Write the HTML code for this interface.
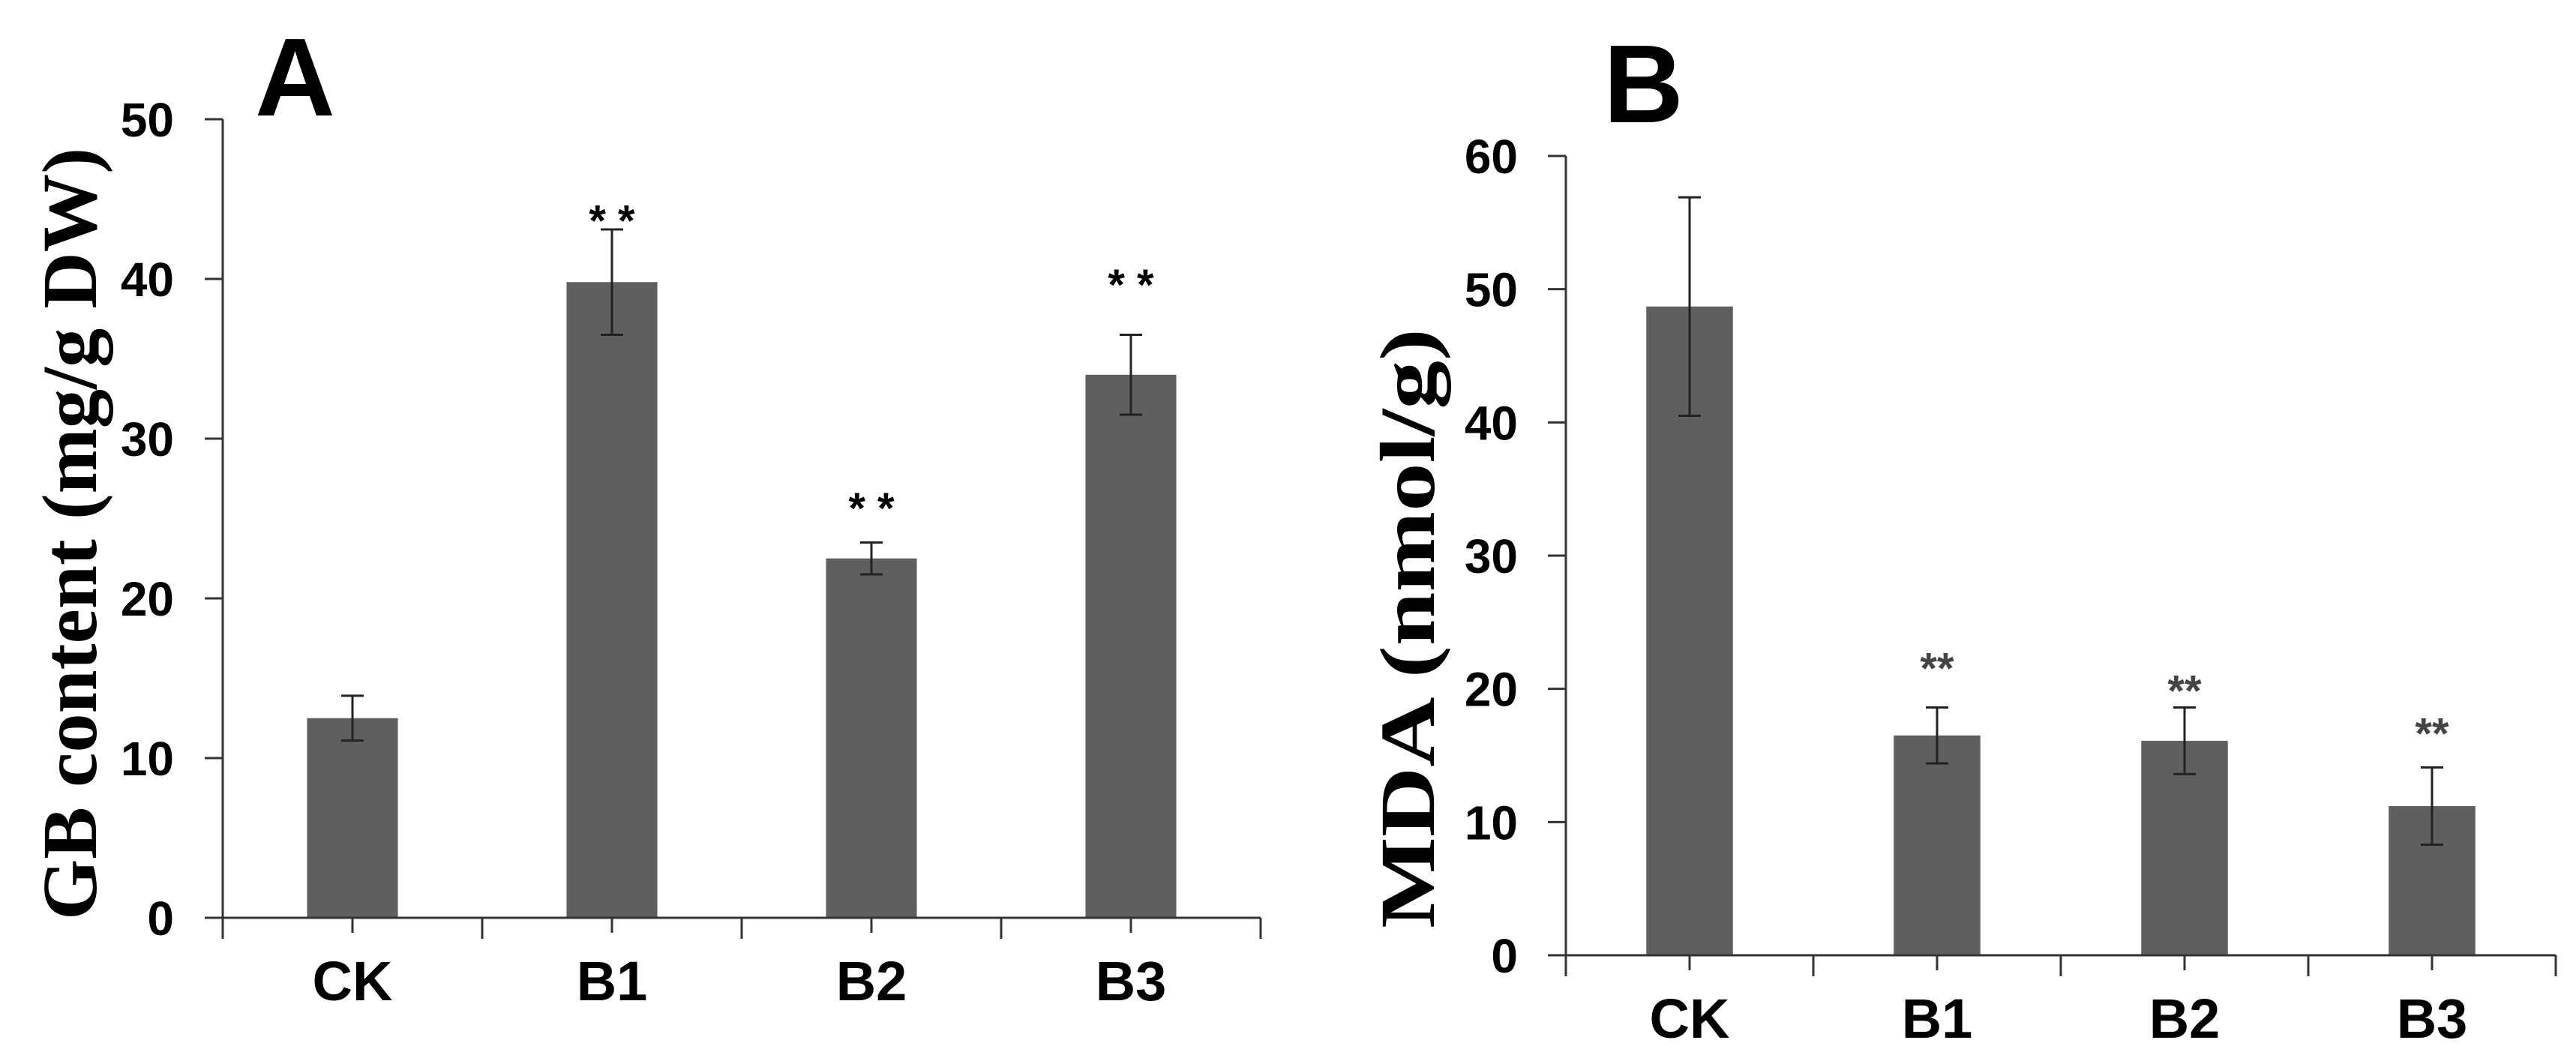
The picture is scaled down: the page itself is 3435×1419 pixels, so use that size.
<!DOCTYPE html>
<html><head><meta charset="utf-8"><style>
html,body{margin:0;padding:0;background:#fff;}
svg{display:block;}
</style></head><body>
<svg id="chart" width="3435" height="1419" xmlns="http://www.w3.org/2000/svg">
<g id="pa"></g>
<g id="pb"></g>
</svg>
<script>
const categories = ["CK","B1","B2","B3"];
const gbValues = [12.5, 39.8, 22.5, 34.0];
const gbErrors = [1.4, 3.3, 1.0, 2.5];
const gbStars = ["", "* *", "* *", "* *"];
const gbStarLevels = [0, 44.1, 26.1, 40.1];
const gbTicks = [0,10,20,30,40,50];
const mdaValues = [48.7, 16.5, 16.1, 11.2];
const mdaErrors = [8.2, 2.1, 2.5, 2.9];
const mdaStars = ["", "**", "**", "**"];
const mdaStarLevels = [0, 22.1, 20.4, 17.2];
const mdaTicks = [0,10,20,30,40,50,60];

const NS = "http://www.w3.org/2000/svg";
function mk(parent, tag, attrs, text){
  const e = document.createElementNS(NS, tag);
  for (const k in attrs) e.setAttribute(k, attrs[k]);
  if (text !== undefined) e.textContent = text;
  parent.appendChild(e);
  return e;
}

function drawPanel(g, cfg){
  const {x0, y0, yTop, maxV, step, vals, errs, stars, starLevels, ticks, letter, lx, ly, title, tx, ty, tlen, starFill, starSize, tickLabelX} = cfg;
  const ys = v => y0 - (y0 - yTop) * v / maxV;
  const xc = i => x0 + step * (i + 0.5);
  const bw = step * 0.35;
  const axisCol = "#333";
  vals.forEach((v,i)=>{
    const r = mk(g,"rect",{x:xc(i)-bw/2,y:ys(v),width:bw,height:y0-ys(v),fill:"#5f5f5f"});
    
    
  });
  vals.forEach((v,i)=>{
    const e = mk(g,"g",{stroke:"#222","stroke-width":3,fill:"none"});
    
    
    const hi = ys(v+errs[i]), lo = ys(v-errs[i]), x = xc(i);
    mk(e,"line",{x1:x,y1:hi,x2:x,y2:lo});
    mk(e,"line",{x1:x-15,y1:hi,x2:x+15,y2:hi});
    mk(e,"line",{x1:x-15,y1:lo,x2:x+15,y2:lo});
    if (stars[i]) {
      const s = mk(g,"text",{x:x,y:ys(starLevels[i])+30,"text-anchor":"middle","font-family":"Liberation Sans, sans-serif","font-size":starSize,"font-weight":"bold",fill:starFill},stars[i]);
      
      
    }
  });
  const ax = mk(g,"g",{stroke:axisCol,"stroke-width":3});
  
  
  mk(ax,"line",{x1:x0,y1:yTop,x2:x0,y2:y0+28});
  mk(ax,"line",{x1:x0-24,y1:y0,x2:x0+step*4,y2:y0});
  for (let i=1;i<=4;i++) mk(ax,"line",{x1:x0+step*i,y1:y0,x2:x0+step*i,y2:y0+28});
  categories.forEach((c,i)=>{
    mk(ax,"line",{x1:xc(i),y1:y0,x2:xc(i),y2:y0+20});
    const t = mk(g,"text",{x:xc(i),y:y0+110,"text-anchor":"middle","font-family":"Liberation Sans, sans-serif","font-size":74,"font-weight":"bold",fill:"#000"},c);
    
    
  });
  ticks.forEach(v=>{
    mk(ax,"line",{x1:x0-24,y1:ys(v),x2:x0,y2:ys(v)});
    const t = mk(g,"text",{x:tickLabelX,y:ys(v)+23,"text-anchor":"end","font-family":"Liberation Sans, sans-serif","font-size":64,"font-weight":"bold",fill:"#000"},String(v));
    
    
  });
  const L = mk(g,"text",{x:lx,y:ly,"font-family":"Liberation Sans, sans-serif","font-size":148,"font-weight":"bold",fill:"#000"},letter);
  
  
  const T = mk(g,"text",{x:0,y:0,"text-anchor":"middle","font-family":"Liberation Serif, serif","font-size":104,"font-weight":"bold",fill:"#000",textLength:tlen,lengthAdjust:"spacingAndGlyphs",transform:`translate(${tx},${ty}) rotate(-90)`},title);
  
  
}

drawPanel(document.getElementById('pa'), {x0:297,y0:1224,yTop:159,maxV:50,step:346,vals:gbValues,errs:gbErrors,stars:gbStars,starLevels:gbStarLevels,ticks:gbTicks,letter:"A",lx:340,ly:154,title:"GB content (mg/g DW)",tx:128,ty:712,tlen:1030,starFill:"#000",starSize:58,tickLabelX:232});
drawPanel(document.getElementById('pb'), {x0:2088,y0:1274,yTop:208,maxV:60,step:330,vals:mdaValues,errs:mdaErrors,stars:mdaStars,starLevels:mdaStarLevels,ticks:mdaTicks,letter:"B",lx:2138,ly:163,title:"MDA (nmol/g)",tx:1912,ty:838,tlen:800,starFill:"#444",starSize:58,tickLabelX:2024});
</script>
</body></html>
